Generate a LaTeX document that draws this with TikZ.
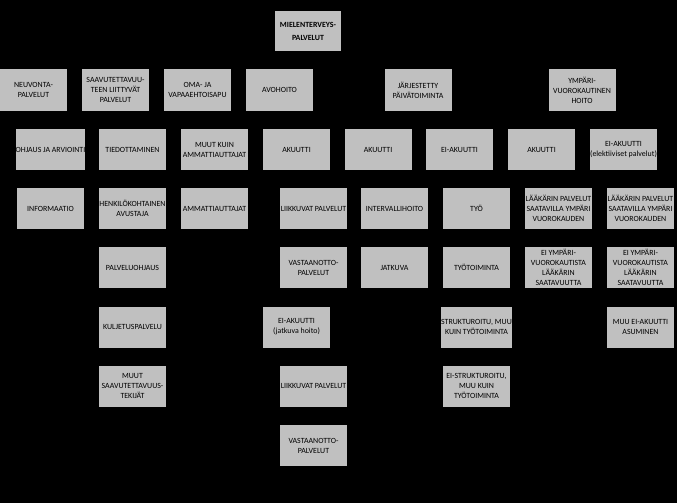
\documentclass[tikz,border=0pt]{standalone}
\usepackage{fontspec}
\setmainfont{Carlito}
\usepackage{tikz}
\usetikzlibrary{positioning}
\definecolor{boxgray}{RGB}{192,192,192}

\begin{document}
\begin{tikzpicture}[
    x=1pt, y=-1pt,
    font=\fontsize{7.9}{10}\selectfont,
    box/.style={draw=none, fill=boxgray, rectangle, minimum width=67pt, minimum height=41pt, inner sep=0pt, align=center, text=black}
]
\fill[black] (0,0) rectangle (677,503);
\useasboundingbox (0,0) rectangle (677,503);

% ylin taso
\node[box, minimum width=66pt, minimum height=40pt, font=\fontsize{7.9}{13}\selectfont\bfseries] (mielenterveys) at (308,31.5) {MIELENTERVEYS-\\PALVELUT};

% taso 1
\node[box] (neuvonta) at (33.5,90) {NEUVONTA-\\PALVELUT};
\node[box] (saavutettavuus) at (115.5,90) {SAAVUTETTAVUU-\\TEEN LIITTYVÄT\\PALVELUT};
\node[box] (omaapu) at (197.5,90) {OMA- JA\\VAPAAEHTOISAPU};
\node[box] (avohoito) at (279.5,90) {AVOHOITO};
\node[box] (paivatoiminta) at (418,90) {JÄRJESTETTY\\PÄIVÄTOIMINTA};
\node[box] (ymparivuoro) at (582,90) {YMPÄRI-\\VUOROKAUTINEN\\HOITO};

% taso 2
\node[box] (ohjaus) at (50.5,149.5) {OHJAUS JA ARVIOINTI};
\node[box] (tiedottaminen) at (132.5,149.5) {TIEDOTTAMINEN};
\node[box] (muutkuin) at (214.5,149.5) {MUUT KUIN\\AMMATTIAUTTAJAT};
\node[box] (avoakuutti) at (296.5,149.5) {AKUUTTI};
\node[box] (paivaakuutti) at (378,149.5) {AKUUTTI};
\node[box] (paivaeiakuutti) at (459.5,149.5) {EI-AKUUTTI};
\node[box] (ymparakuutti) at (541.5,149.5) {AKUUTTI};
\node[box] (ympareiakuutti) at (623.5,149.5) {EI-AKUUTTI\\(elektiiviset palvelut)};

% taso 3
\node[box] (informaatio) at (50.5,208.5) {INFORMAATIO};
\node[box] (avustaja) at (132.5,208.5) {HENKILÖKOHTAINEN\\AVUSTAJA};
\node[box] (ammattiauttajat) at (214.5,208.5) {AMMATTIAUTTAJAT};
\node[box] (liikkuvat) at (313.5,208.5) {LIIKKUVAT PALVELUT};
\node[box] (intervalli) at (394.5,208.5) {INTERVALLIHOITO};
\node[box] (tyo) at (476.5,208.5) {TYÖ};
\node[box] (laakariakuutti) at (558.5,208.5) {LÄÄKÄRIN PALVELUT\\SAATAVILLA YMPÄRI\\VUOROKAUDEN};
\node[box] (laakarieiakuutti) at (640.5,208.5) {LÄÄKÄRIN PALVELUT\\SAATAVILLA YMPÄRI\\VUOROKAUDEN};

% taso 4
\node[box] (palveluohjaus) at (132.5,267.5) {PALVELUOHJAUS};
\node[box] (vastaanotto) at (313.5,267.5) {VASTAANOTTO-\\PALVELUT};
\node[box] (jatkuva) at (394.5,267.5) {JATKUVA};
\node[box] (tyotoiminta) at (476.5,267.5) {TYÖTOIMINTA};
\node[box] (eiymparakuutti) at (558.5,267.5) {EI YMPÄRI-\\VUOROKAUTISTA\\LÄÄKÄRIN\\SAATAVUUTTA};
\node[box] (eiympareiakuutti) at (640.5,267.5) {EI YMPÄRI-\\VUOROKAUTISTA\\LÄÄKÄRIN\\SAATAVUUTTA};

% taso 5
\node[box] (kuljetus) at (132.5,327) {KULJETUSPALVELU};
\node[box] (jatkuvahoito) at (296.5,327) {EI-AKUUTTI\\(jatkuva hoito)};
\node[box] (strukturoitu) at (476.5,327) {STRUKTUROITU, MUU\\KUIN TYÖTOIMINTA};
\node[box] (asuminen) at (640.5,327) {MUU EI-AKUUTTI\\ASUMINEN};

% taso 6
\node[box] (muuttekijat) at (132.5,386) {MUUT\\SAAVUTETTAVUUS-\\TEKIJÄT};
\node[box] (jatkuvaliikkuvat) at (313.5,386) {LIIKKUVAT PALVELUT};
\node[box] (eistrukturoitu) at (476.5,386) {EI-STRUKTUROITU,\\MUU KUIN\\TYÖTOIMINTA};

% taso 7
\node[box] (jatkuvavastaanotto) at (313.5,445.5) {VASTAANOTTO-\\PALVELUT};

\end{tikzpicture}
\end{document}
